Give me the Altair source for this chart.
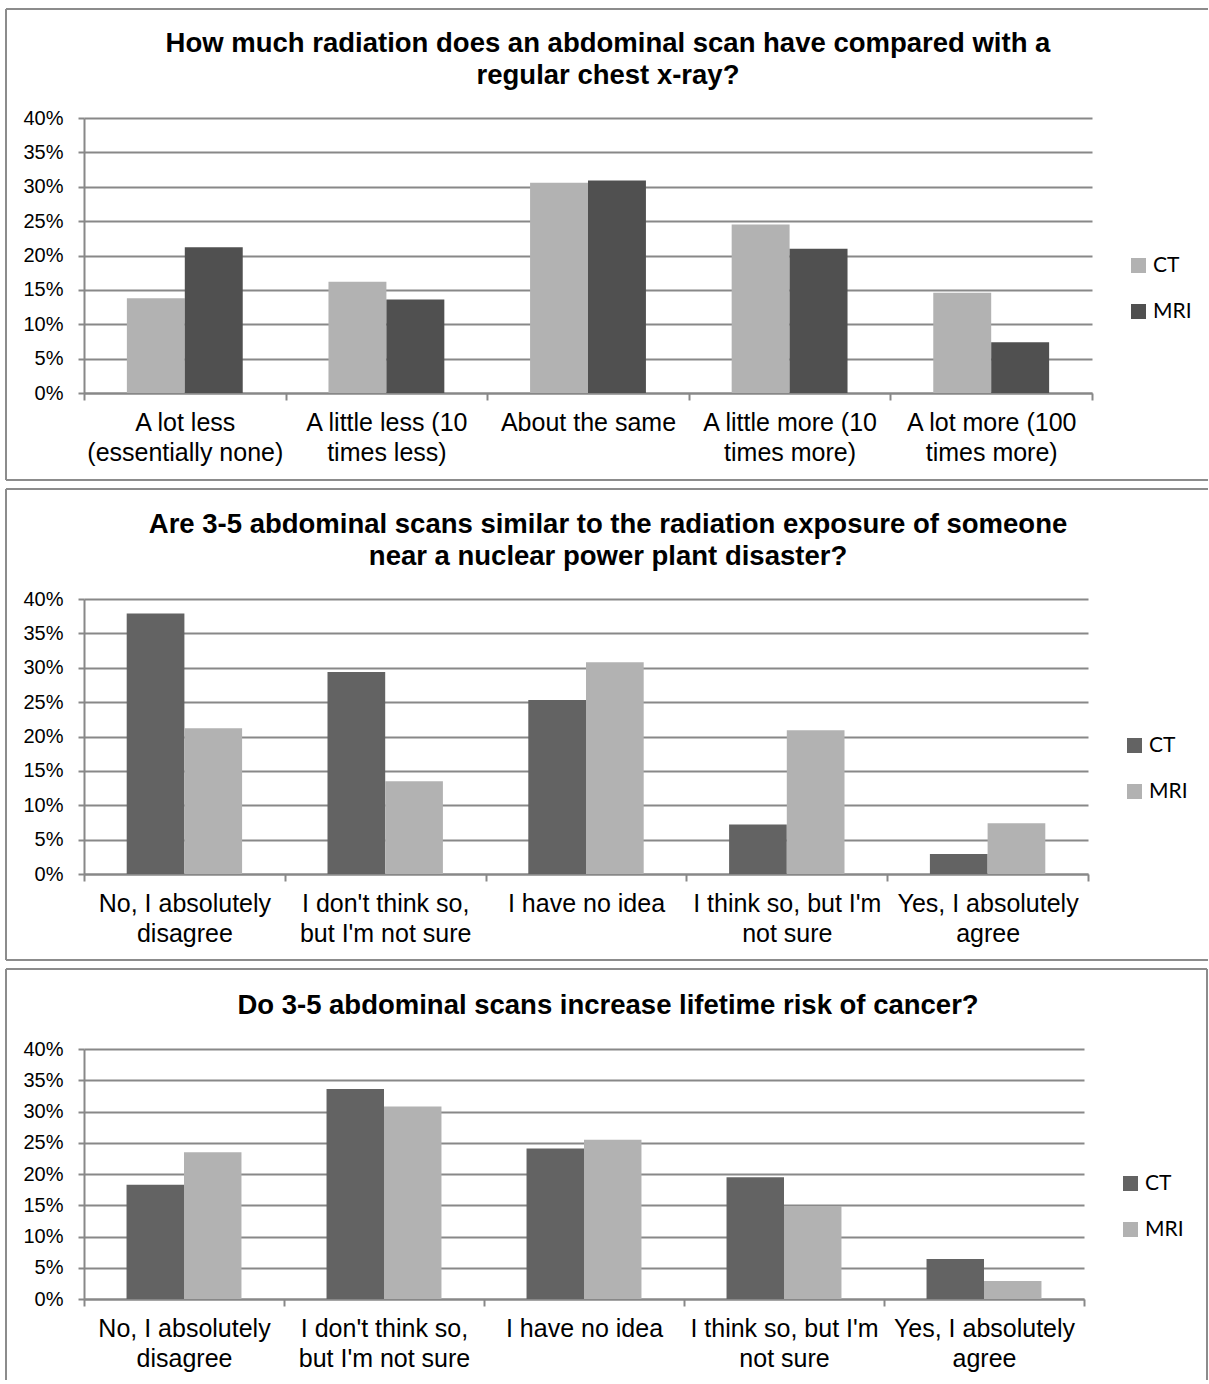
import altair as alt
import pandas as pd

# ---------------- data ----------------
series_names = ["CT", "MRI"]

titles = [
    ["How much radiation does an abdominal scan have compared with a", "regular chest x-ray?"],
    ["Are 3-5 abdominal scans similar to the radiation exposure of someone", "near a nuclear power plant disaster?"],
    ["Do 3-5 abdominal scans increase lifetime risk of cancer?"],
]

categories_1 = [
    "A lot less\n(essentially none)",
    "A little less (10\ntimes less)",
    "About the same",
    "A little more (10\ntimes more)",
    "A lot more (100\ntimes more)",
]
ct_1 = [13.8, 16.2, 30.6, 24.5, 14.6]
mri_1 = [21.2, 13.6, 30.9, 21.0, 7.4]

categories_2 = [
    "No, I absolutely\ndisagree",
    "I don't think so,\nbut I'm not sure",
    "I have no idea",
    "I think so, but I'm\nnot sure",
    "Yes, I absolutely\nagree",
]
ct_2 = [37.9, 29.4, 25.3, 7.2, 2.9]
mri_2 = [21.2, 13.5, 30.8, 20.9, 7.4]

categories_3 = categories_2
ct_3 = [18.3, 33.6, 24.1, 19.5, 6.4]
mri_3 = [23.5, 30.8, 25.5, 14.9, 2.9]

y_ticks = [0, 5, 10, 15, 20, 25, 30, 35, 40]

# ---------------- style ----------------
LIGHT = "#b2b2b2"
DARK1 = "#505050"
DARK2 = "#636363"
GRID = "#888888"
BORDER = "#8c8c8c"
FONT = "Liberation Sans"


def border(left, top, right, bottom, sides):
    base = alt.Chart(alt.Data(values=[{"k": 0}]))
    st = dict(color=BORDER, strokeWidth=2)
    layers = []
    if "top" in sides:
        layers.append(base.mark_rule(**st).encode(x=alt.value(left), x2=alt.value(right), y=alt.value(top)))
    if "bottom" in sides:
        layers.append(base.mark_rule(**st).encode(x=alt.value(left), x2=alt.value(right), y=alt.value(bottom)))
    if "left" in sides:
        layers.append(base.mark_rule(**st).encode(x=alt.value(left), y=alt.value(top), y2=alt.value(bottom)))
    if "right" in sides:
        layers.append(base.mark_rule(**st).encode(x=alt.value(right), y=alt.value(top), y2=alt.value(bottom)))
    return layers


def panel(title_lines, title_y, cats, ct, mri, colors, width, height,
          legend_x, legend_y, box, sides):
    df = pd.DataFrame({
        "category": cats * 2,
        "series": [series_names[0]] * len(cats) + [series_names[1]] * len(cats),
        "value": ct + mri,
    })
    bars = alt.Chart(df).mark_bar(strokeWidth=0).encode(
        x=alt.X(
            "category:N", sort=cats,
            scale=alt.Scale(paddingInner=0, paddingOuter=0),
            axis=alt.Axis(
                title=None, labelAngle=0, grid=False,
                labelExpr="split(datum.label, '\\n')",
                tickBand="extent", tickSize=7, tickColor=GRID, tickWidth=2,
                domainColor=GRID, domainWidth=2,
                labelFont=FONT, labelFontSize=25, labelColor="black",
                labelPadding=10, labelLineHeight=30, labelLimit=400,
                labelOverlap=False, labelBaseline="top",
            ),
        ),
        xOffset=alt.XOffset(
            "series:N", sort=series_names,
            scale=alt.Scale(paddingInner=0, paddingOuter=0.74),
        ),
        y=alt.Y(
            "value:Q",
            scale=alt.Scale(domain=[0, 40], nice=False),
            axis=alt.Axis(
                title=None, values=y_ticks, labelExpr="datum.value + '%'",
                grid=True, gridColor=GRID, gridWidth=2,
                domainColor=GRID, domainWidth=2,
                tickColor=GRID, tickWidth=2, tickSize=6,
                labelFont=FONT, labelFontSize=20, labelColor="black",
                labelPadding=15,
            ),
        ),
        color=alt.Color(
            "series:N",
            scale=alt.Scale(domain=series_names, range=colors),
            legend=alt.Legend(
                title=None, orient="none", legendX=legend_x, legendY=legend_y,
                symbolType="square", symbolSize=225, symbolStrokeWidth=0,
                symbolOpacity=1,
                labelFont="Lato", labelFontSize=21, labelColor="black",
                labelOffset=4, rowPadding=24,
            ),
        ),
    )
    title = alt.Chart(alt.Data(values=[{"k": 0}])).mark_text(
        font=FONT, fontSize=27.5, fontWeight="bold", color="black",
        align="center", baseline="alphabetic", lineHeight=32,
    ).encode(
        x=alt.value(524), y=alt.value(title_y),
        text=alt.value(title_lines if len(title_lines) > 1 else title_lines[0]),
    )
    left, top, right, bottom = box
    layers = [bars, title] + border(left, top, right, bottom, sides)
    return alt.layer(*layers).properties(width=width, height=height)


p1 = panel(titles[0], -66, categories_1, ct_1, mri_1, [LIGHT, DARK1],
           1008, 275, 1044, 137, (-78, -109, 1124, 362), ["top", "bottom", "left"])
p2 = panel(titles[1], -66, categories_2, ct_2, mri_2, [DARK2, LIGHT],
           1004, 275, 1040, 136, (-78, -110, 1124, 361), ["top", "bottom", "left"])
p3 = panel(titles[2], -35, categories_3, ct_3, mri_3, [DARK2, LIGHT],
           1000, 250, 1036, 124, (-78, -80, 1123, 331), ["top", "left", "right"])

chart = alt.vconcat(p1, p2, p3, spacing=7).resolve_scale(
    color="independent", x="independent", xOffset="independent", y="independent"
).resolve_legend(color="independent").properties(
    padding={"left": 5, "top": 8, "right": 0, "bottom": 0},
    background="white",
).configure_view(strokeWidth=0)

chart.save("out.html", embed_options={"renderer": "svg", "actions": False})
